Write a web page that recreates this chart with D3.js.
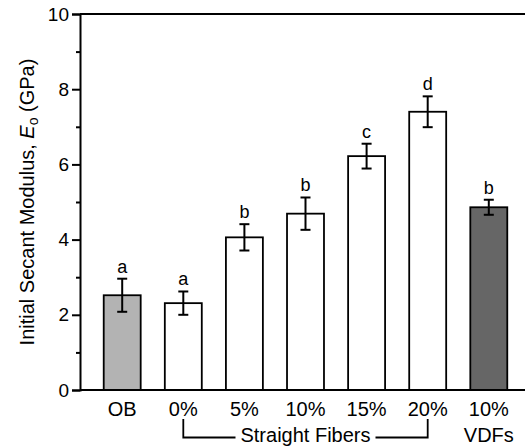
<!DOCTYPE html>
<html>
<head>
<meta charset="utf-8">
<script src="https://cdn.jsdelivr.net/npm/d3@7"></script>
<style>
  body { margin: 0; background: #fff; }
  text { font-family: "Liberation Sans", Arial, sans-serif; fill: #000; }
</style>
</head>
<body>
<svg id="graph"></svg>
<script>
// data
const categories = ['OB', '0%', '5%', '10%', '15%', '20%', '10%v'];
const tickLabels = ['OB', '0%', '5%', '10%', '15%', '20%', '10%'];
const values = [2.52, 2.31, 4.06, 4.69, 6.22, 7.40, 4.86];
const errors = [0.44, 0.31, 0.35, 0.43, 0.33, 0.41, 0.20];
const letters = ['a', 'a', 'b', 'b', 'c', 'd', 'b'];
const fills = ['#b3b3b3', '#fff', '#fff', '#fff', '#fff', '#fff', '#666'];
const yTicks = [0, 2, 4, 6, 8, 10];
const yMinor = [1, 3, 5, 7, 9];

const width = 525;
const height = 447;
const margin = {top: 14, bottom: 57, left: 80, right: 0};
const font = '"Liberation Sans", Arial, sans-serif';

const graph = d3.select('#graph')
  .attr('width', width)
  .attr('height', height);

// scales
const x_scale = d3.scaleBand()
  .domain(categories)
  .range([91.5, 519.5])
  .paddingInner(0.395)
  .paddingOuter(0.2);
const y_scale = d3.scaleLinear()
  .domain([0, 10])
  .range([height - margin.bottom, margin.top]);

const cx = d => x_scale(d) + x_scale.bandwidth() / 2;

// bars
graph.selectAll('rect.bar')
  .data(categories)
  .enter()
  .append('rect')
  .attr('class', 'bar')
  .attr('x', d => x_scale(d))
  .attr('y', (d, i) => y_scale(values[i]))
  .attr('width', x_scale.bandwidth())
  .attr('height', (d, i) => y_scale(0) - y_scale(values[i]))
  .style('fill', (d, i) => fills[i])
  .style('stroke', '#000')
  .style('stroke-width', 1.8);

// error bars
const cap = 5;
const err = graph.selectAll('g.err')
  .data(categories)
  .enter()
  .append('g')
  .attr('class', 'err')
  .style('stroke', '#000')
  .style('stroke-width', 2);
err.append('line')
  .attr('x1', d => cx(d))
  .attr('x2', d => cx(d))
  .attr('y1', (d, i) => y_scale(values[i] + errors[i]))
  .attr('y2', (d, i) => y_scale(values[i] - errors[i]));
err.append('line')
  .attr('x1', d => cx(d) - cap)
  .attr('x2', d => cx(d) + cap)
  .attr('y1', (d, i) => y_scale(values[i] + errors[i]))
  .attr('y2', (d, i) => y_scale(values[i] + errors[i]));
err.append('line')
  .attr('x1', d => cx(d) - cap)
  .attr('x2', d => cx(d) + cap)
  .attr('y1', (d, i) => y_scale(values[i] - errors[i]))
  .attr('y2', (d, i) => y_scale(values[i] - errors[i]));

// significance letters
graph.selectAll('text.letter')
  .data(categories)
  .enter()
  .append('text')
  .attr('class', 'letter')
  .attr('x', d => cx(d))
  .attr('y', (d, i) => y_scale(values[i] + errors[i]) - 6)
  .attr('text-anchor', 'middle')
  .style('font-size', '18px')
  .text((d, i) => letters[i]);

// top and bottom frame lines
graph.append('line')
  .attr('x1', margin.left).attr('x2', width)
  .attr('y1', y_scale(10)).attr('y2', y_scale(10))
  .style('stroke', '#000').style('stroke-width', 2);
graph.append('line')
  .attr('x1', margin.left).attr('x2', width)
  .attr('y1', y_scale(0)).attr('y2', y_scale(0))
  .style('stroke', '#000').style('stroke-width', 2);

// y axis
const y_axis = d3.axisLeft(y_scale)
  .tickValues(yTicks)
  .tickSize(8)
  .tickPadding(3)
  .tickFormat(d3.format('d'));
const yg = graph.append('g')
  .attr('transform', `translate(${margin.left},0)`)
  .call(y_axis);
yg.select('.domain').style('stroke-width', 2);
yg.selectAll('.tick line').style('stroke-width', 2);
yg.selectAll('.tick text').style('font-size', '19px').style('font-family', font);

const y_minor = d3.axisLeft(y_scale).tickValues(yMinor).tickSize(4).tickFormat('');
const ym = graph.append('g')
  .attr('transform', `translate(${margin.left},0)`)
  .call(y_minor);
ym.select('.domain').remove();
ym.selectAll('.tick line').style('stroke-width', 2);

// x axis labels
const x_axis = d3.axisBottom(x_scale)
  .tickSize(0)
  .tickPadding(12)
  .tickFormat((d, i) => tickLabels[i]);
const xg = graph.append('g')
  .attr('transform', `translate(0,${y_scale(0)})`)
  .call(x_axis);
xg.select('.domain').remove();
xg.selectAll('.tick text').style('font-size', '20px').style('font-family', font);

// second line: VDFs and straight fibers bracket
graph.append('text')
  .attr('x', cx('10%v'))
  .attr('y', 442)
  .attr('text-anchor', 'middle')
  .style('font-size', '20px')
  .text('VDFs');

const sfLeft = cx('0%');
const sfRight = cx('20%');
const sfMid = (sfLeft + sfRight) / 2;
graph.append('text')
  .attr('x', sfMid)
  .attr('y', 442)
  .attr('text-anchor', 'middle')
  .style('font-size', '20px')
  .text('Straight Fibers');
graph.append('path')
  .attr('d', `M${sfLeft},419V437.5H${sfMid - 70}M${sfMid + 70},437.5H${sfRight}V419`)
  .style('fill', 'none')
  .style('stroke', '#000')
  .style('stroke-width', 1.8);

// y axis title
const yt = graph.append('text')
  .attr('transform', `translate(34,${(y_scale(0) + y_scale(10)) / 2}) rotate(-90)`)
  .attr('text-anchor', 'middle')
  .style('font-size', '20px');
yt.append('tspan').text('Initial Secant Modulus, ');
yt.append('tspan').style('font-style', 'italic').text('E');
yt.append('tspan').attr('dy', 4).style('font-size', '14px').text('o');
yt.append('tspan').attr('dy', -4).text(' (GPa)');
</script>
</body>
</html>
